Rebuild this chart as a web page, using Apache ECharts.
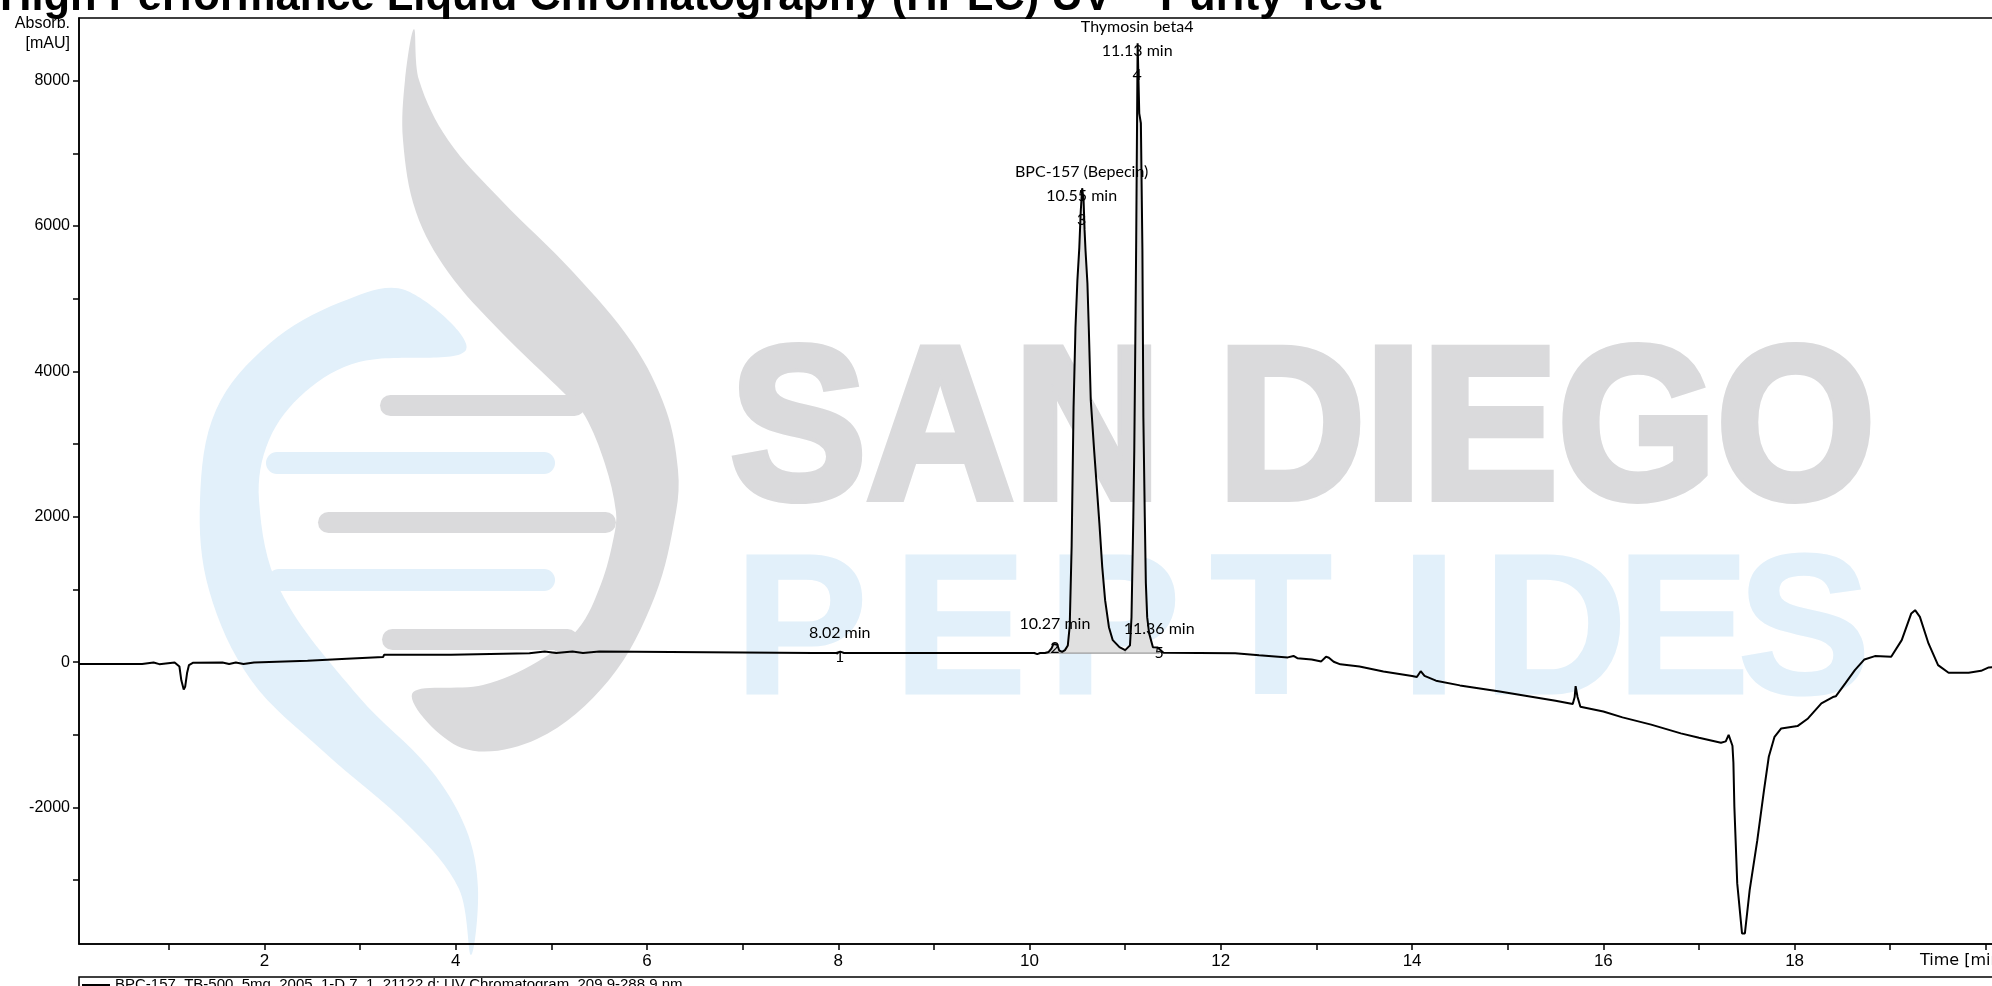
<!DOCTYPE html>
<html>
<head>
<meta charset="utf-8">
<script src="https://cdn.jsdelivr.net/npm/echarts@6/dist/echarts.min.js"></script>
<style>
html,body{margin:0;padding:0;background:#ffffff;}
#chart{width:1992px;height:986px;}
</style>
</head>
<body>
<div id="chart"></div>
<script>
// ---------------- data ----------------
const trace = [
  [0.06,-27],[0.72,-27],[0.73,-5],[0.84,-5],[0.85,-28],[0.90,-28],[0.91,-5],[1.06,-5],[1.08,-15],[1.11,-60],[1.13,-250],[1.155,-375],[1.17,-340],[1.19,-150],[1.21,-40],[1.25,-10],
  [1.56,-5],[1.57,-25],[1.63,-25],[1.64,-5],[1.70,-5],[1.71,-25],[1.78,-25],[1.79,-5],[1.89,-5],[1.90,18],[2.45,18],[2.46,45],[2.86,45],[2.87,70],[3.24,70],[3.25,100],[3.95,100],[3.96,122],
  [4.77,122],[4.78,145],[4.93,145],[4.94,125],[5.05,125],[5.06,145],[5.22,145],[5.23,125],[5.33,125],[5.34,145],[5.50,145],[5.51,125],[7.74,125],[7.76,105],[7.78,125],[7.98,125],[8.02,145],[8.06,125],
  [10.05,125],[10.08,110],[10.11,125],[10.16,125],[10.20,140],[10.23,190],[10.25,250],[10.27,275],[10.29,240],[10.31,160],[10.34,140],[10.37,165],[10.40,230],[10.42,500],[10.44,1600],[10.46,3500],[10.48,4600],[10.50,5250],[10.52,5700],[10.535,6200],[10.55,6520],[10.565,6350],[10.575,5950],[10.585,5667],[10.605,5213],[10.62,4566],[10.64,3604],[10.675,2916],[10.70,2462],[10.73,1912],[10.76,1307],[10.79,853],[10.83,481],[10.87,302],[10.94,206],[11.00,165],[11.02,170],[11.05,230],[11.066,620],[11.085,2000],[11.095,2916],[11.105,4291],[11.115,5800],[11.13,8515],[11.147,7550],[11.164,7414],[11.18,5667],[11.19,3370],[11.205,1994],[11.216,1087],[11.23,619],[11.25,399],[11.29,206],[11.31,180],[11.34,200],[11.36,175],[11.40,130],
  [12.15,122],[12.17,100],[12.40,95],[12.42,73],[12.70,65],[12.76,85],[12.80,55],[12.95,35],[13.05,10],[13.10,75],[13.13,60],[13.18,5],[13.25,-30],[13.45,-60],[13.70,-130],[14.00,-190],[14.05,-205],[14.09,-125],[14.13,-190],[14.25,-255],[14.50,-320],[14.90,-400],[15.20,-465],[15.50,-530],[15.68,-575],[15.70,-480],[15.71,-330],[15.73,-480],[15.76,-615],[16.00,-680],[16.20,-760],[16.50,-860],[16.81,-980],[17.00,-1040],[17.23,-1110],[17.28,-1090],[17.31,-1000],[17.33,-990],[17.35,-1150],[17.36,-1385],[17.37,-1990],[17.40,-3044],[17.45,-3732],[17.48,-3732],[17.53,-3136],[17.61,-2449],[17.68,-1761],[17.73,-1302],[17.79,-1027],[17.86,-912],[18.03,-880],[18.14,-775],[18.28,-568],[18.40,-480],[18.43,-470],[18.53,-293],[18.63,-110],[18.73,37],[18.84,83],[19.01,73],[19.12,303],[19.22,670],[19.26,715],[19.31,623],[19.40,257],[19.50,-41],[19.61,-147],[19.82,-147],[19.95,-120],[20.03,-73],[20.20,-60]
];

const integrationStart = 10.16;
const integrationEnd = 11.36;
const integrationBaseline = 125;
const valleyTime = 11.00;

const peakTimes   = [8.02, 10.27, 10.55, 11.13, 11.36];
const peakHeights = [145, 275, 6520, 8515, 200];
const peakNames   = ['', '', 'BPC-157 (Bepecin)', 'Thymosin beta4', ''];
const peakNumbers = ['1', '2', '3', '4', '5'];

const xLabelValues = [2, 4, 6, 8, 10, 12, 14, 16, 18];
const xTickValues  = [1, 2, 3, 4, 5, 6, 7, 8, 9, 10, 11, 12, 13, 14, 15, 16, 17, 18, 19, 20];
const yLabelValues = [-2000, 0, 2000, 4000, 6000, 8000];
const yTickValues  = [-3000, -2000, -1000, 0, 1000, 2000, 3000, 4000, 5000, 6000, 7000, 8000];

const titleText  = 'High Performance Liquid Chromatography (HPLC) UV – Purity Test';
const yAxisName1 = 'Absorb.';
const yAxisName2 = '[mAU]';
const xAxisName  = 'Time [min]';
const legendText = 'BPC-157_TB-500_5mg_2005_1-D.7_1_21122 d: UV Chromatogram, 209.9-288.9 nm';

// ---------------- derived ----------------
const fillPts = trace.filter(p => p[0] >= integrationStart && p[0] <= integrationEnd);

const peakData = peakTimes.map((t, i) => {
  const lines = [];
  if (peakNames[i]) lines.push(peakNames[i]);
  lines.push(t.toFixed(2) + ' min');
  lines.push(peakNumbers[i]);
  return {
    value: [t, peakHeights[i]],
    label: { formatter: lines.join('\n'), position: [0, peakNames[i] ? 8 : -6] }
  };
});

// ---------------- watermark ----------------
const GRAY = '#dadadc';
const BLUE = '#e2f0fa';
const grayRibbon = [[414,29],[405,80],[403,140],[416,212],[448,272],[501,332],[566,395],[585,416],[605,464],[616,512],[614,536],[601,584],[578,629],[537,662],[483,685],[412,694],[462,748],[537,739],[609,680],[655,596],[676,512],[678,470],[666,410],[633,344],[573,272],[501,200],[448,140],[419,80]];
const blueRibbon = [[405,290],[341,302],[269,344],[216,410],[200,500],[209,590],[251,680],[323,751],[412,829],[459,889],[471,955],[478,889],[466,829],[430,769],[359,697],[280,590],[259,500],[269,440],[305,392],[359,362],[466,350]];
const rungs = [
  [380,395,205,21,GRAY],[266,452,289,22,BLUE],[318,512,298,21,GRAY],[268,569,287,22,BLUE],[382,629,196,21,GRAY]
];
const pepLetters = [['P',801],['E',960],['P',1114],['T',1271],['I',1429],['D',1555],['E',1683],['S',1804]];

const wm = [];
wm.push({type:'polygon', z:-20, silent:true, shape:{points:blueRibbon, smooth:0.35}, style:{fill:BLUE}});
wm.push({type:'polygon', z:-20, silent:true, shape:{points:grayRibbon, smooth:0.35}, style:{fill:GRAY}});
rungs.forEach(r => wm.push({type:'rect', z:-19, silent:true, shape:{x:r[0], y:r[1], width:r[2], height:r[3], r:r[3]/2}, style:{fill:r[4]}}));
wm.push({type:'text', z:-20, silent:true, x:689, y:438, scaleX:0.94, originX:689, originY:438,
  style:{text:'SAN DIEGO', font:'bold 217px "Liberation Sans"', fill:GRAY, stroke:GRAY, lineWidth:8, align:'left', verticalAlign:'middle'}});
pepLetters.forEach(l => wm.push({type:'text', z:-20, silent:true, x:l[1], y:638,
  style:{text:l[0], font:'bold 199px "Liberation Sans"', fill:BLUE, stroke:BLUE, lineWidth:3, align:'center', verticalAlign:'middle'}}));

// ---------------- texts / legend ----------------
const deco = [
  {type:'text', z:50, x:0, y:-2, style:{text:titleText, font:'bold 43.5px "Liberation Sans"', fill:'#000', align:'left', verticalAlign:'middle'}},
  {type:'text', z:50, x:70, y:24, style:{text:yAxisName1, font:'16px "Liberation Sans"', fill:'#000', align:'right', verticalAlign:'middle'}},
  {type:'text', z:50, x:70, y:44, style:{text:yAxisName2, font:'16px "Liberation Sans"', fill:'#000', align:'right', verticalAlign:'middle'}},
  {type:'text', z:50, x:1920, y:961, style:{text:xAxisName, font:'16px "DejaVu Sans"', fill:'#000', align:'left', verticalAlign:'middle'}},
  {type:'rect', z:50, shape:{x:79, y:977, width:1960, height:40}, style:{fill:'#fff', stroke:'#000', lineWidth:1.5}},
  {type:'line', z:51, shape:{x1:82, y1:985, x2:110, y2:985}, style:{stroke:'#000', lineWidth:2}},
  {type:'text', z:51, x:115, y:977, style:{text:legendText, font:'15px "Liberation Sans"', fill:'#000', align:'left', verticalAlign:'top'}}
];

// ---------------- chart ----------------
const chart = echarts.init(document.getElementById('chart'), null, {renderer:'canvas', width:1992, height:986});
chart.setOption({
  animation: false,
  backgroundColor: '#ffffff',
  grid: {left:79, top:18, right:-13, bottom:42, containLabel:false, outerBoundsMode:'none',
         show:true, borderColor:'#000', borderWidth:1.5, backgroundColor:'transparent'},
  xAxis: {
    type:'value', min:0.06, max:20.2,
    axisLine:{show:true, onZero:false, lineStyle:{color:'#000', width:1.5}},
    axisTick:{show:true, customValues:xTickValues, length:6, inside:false, lineStyle:{color:'#000', width:1.5}},
    axisLabel:{show:true, customValues:xLabelValues, color:'#000', fontFamily:'Liberation Sans', fontSize:17, margin:9,
               formatter: v => String(v)},
    splitLine:{show:false}
  },
  yAxis: {
    type:'value', min:-3878, max:8862,
    axisLine:{show:true, onZero:false, lineStyle:{color:'#000', width:1.5}},
    axisTick:{show:true, customValues:yTickValues, length:6, inside:false, lineStyle:{color:'#000', width:1.5}},
    axisLabel:{show:true, customValues:yLabelValues, color:'#000', fontFamily:'Liberation Sans', fontSize:16, margin:9,
               formatter: v => String(v)},
    splitLine:{show:false}
  },
  graphic: { elements: wm.concat(deco) },
  series: [
    { name:'integration', type:'custom', z:3, silent:true, clip:true,
      data:[[integrationStart, integrationBaseline]],
      renderItem: function (params, api) {
        const b0 = api.coord([integrationStart, integrationBaseline]);
        const b1 = api.coord([integrationEnd, integrationBaseline]);
        const pts = fillPts.map(p => api.coord([p[0], Math.max(p[1], integrationBaseline)]));
        const vTop = fillPts.reduce((m, p) => Math.abs(p[0] - valleyTime) < Math.abs(m[0] - valleyTime) ? p : m, fillPts[0]);
        const v0 = api.coord([valleyTime, integrationBaseline]);
        const v1 = api.coord([valleyTime, vTop[1]]);
        return {type:'group', children:[
          {type:'polygon', shape:{points:[b0].concat(pts, [b1])}, style:{fill:'#e0e0e0'}},
          {type:'line', shape:{x1:v0[0], y1:v0[1], x2:v1[0], y2:v1[1]}, style:{stroke:'#a8a8a8', lineWidth:1}},
          {type:'line', shape:{x1:b0[0], y1:b0[1], x2:b1[0], y2:b1[1]}, style:{stroke:'#9c9c9c', lineWidth:1.3}}
        ]};
      }
    },
    { name:'UV', type:'line', data:trace, showSymbol:false, symbol:'none', z:5,
      lineStyle:{color:'#000', width:2}, silent:true },
    { name:'peaks', type:'scatter', data:peakData, symbolSize:1, z:6, silent:true,
      itemStyle:{color:'rgba(0,0,0,0)'},
      label:{show:true, color:'#000', fontFamily:'Lato', fontSize:16, lineHeight:24, align:'center', verticalAlign:'middle', opacity:1} }
  ]
});
</script>
</body>
</html>
